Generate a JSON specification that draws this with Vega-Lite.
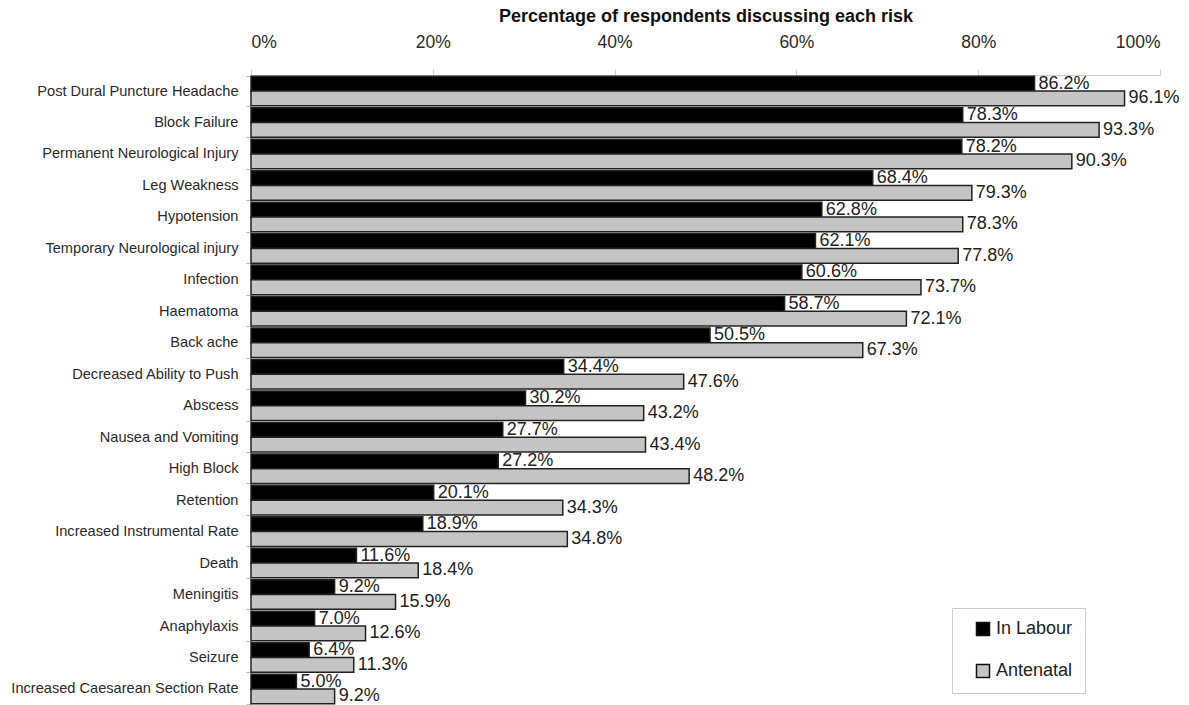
{
  "$schema": "https://vega.github.io/schema/vega-lite/v6.json",
  "autosize": {"type": "none"},
  "width": 909,
  "height": 630,
  "padding": {"left": 251, "top": 75, "right": 29, "bottom": 0},
  "background": "white",
  "config": {"font": "Liberation Sans", "view": {"stroke": null}},
  "data": {"values": [
    {"risk": "Post Dural Puncture Headache", "series": "In Labour", "value": 86.2},
    {"risk": "Post Dural Puncture Headache", "series": "Antenatal", "value": 96.1},
    {"risk": "Block Failure", "series": "In Labour", "value": 78.3},
    {"risk": "Block Failure", "series": "Antenatal", "value": 93.3},
    {"risk": "Permanent Neurological Injury", "series": "In Labour", "value": 78.2},
    {"risk": "Permanent Neurological Injury", "series": "Antenatal", "value": 90.3},
    {"risk": "Leg Weakness", "series": "In Labour", "value": 68.4},
    {"risk": "Leg Weakness", "series": "Antenatal", "value": 79.3},
    {"risk": "Hypotension", "series": "In Labour", "value": 62.8},
    {"risk": "Hypotension", "series": "Antenatal", "value": 78.3},
    {"risk": "Temporary Neurological injury", "series": "In Labour", "value": 62.1},
    {"risk": "Temporary Neurological injury", "series": "Antenatal", "value": 77.8},
    {"risk": "Infection", "series": "In Labour", "value": 60.6},
    {"risk": "Infection", "series": "Antenatal", "value": 73.7},
    {"risk": "Haematoma", "series": "In Labour", "value": 58.7},
    {"risk": "Haematoma", "series": "Antenatal", "value": 72.1},
    {"risk": "Back ache", "series": "In Labour", "value": 50.5},
    {"risk": "Back ache", "series": "Antenatal", "value": 67.3},
    {"risk": "Decreased Ability to Push", "series": "In Labour", "value": 34.4},
    {"risk": "Decreased Ability to Push", "series": "Antenatal", "value": 47.6},
    {"risk": "Abscess", "series": "In Labour", "value": 30.2},
    {"risk": "Abscess", "series": "Antenatal", "value": 43.2},
    {"risk": "Nausea and Vomiting", "series": "In Labour", "value": 27.7},
    {"risk": "Nausea and Vomiting", "series": "Antenatal", "value": 43.4},
    {"risk": "High Block", "series": "In Labour", "value": 27.2},
    {"risk": "High Block", "series": "Antenatal", "value": 48.2},
    {"risk": "Retention", "series": "In Labour", "value": 20.1},
    {"risk": "Retention", "series": "Antenatal", "value": 34.3},
    {"risk": "Increased Instrumental Rate", "series": "In Labour", "value": 18.9},
    {"risk": "Increased Instrumental Rate", "series": "Antenatal", "value": 34.8},
    {"risk": "Death", "series": "In Labour", "value": 11.6},
    {"risk": "Death", "series": "Antenatal", "value": 18.4},
    {"risk": "Meningitis", "series": "In Labour", "value": 9.2},
    {"risk": "Meningitis", "series": "Antenatal", "value": 15.9},
    {"risk": "Anaphylaxis", "series": "In Labour", "value": 7.0},
    {"risk": "Anaphylaxis", "series": "Antenatal", "value": 12.6},
    {"risk": "Seizure", "series": "In Labour", "value": 6.4},
    {"risk": "Seizure", "series": "Antenatal", "value": 11.3},
    {"risk": "Increased Caesarean Section Rate", "series": "In Labour", "value": 5.0},
    {"risk": "Increased Caesarean Section Rate", "series": "Antenatal", "value": 9.2}
  ]},
  "encoding": {
    "y": {
      "field": "risk", "type": "nominal", "sort": null,
      "scale": {"paddingInner": 0.06, "paddingOuter": 0.04},
      "axis": {"title": null, "labelFontSize": 14.6, "labelColor": "#2a2a2a", "labelPadding": 8, "domainColor": "#bbb", "tickColor": "#bbb", "tickBand": "extent", "tickSize": 5, "labelLimit": 300}
    },
    "x": {
      "field": "value", "type": "quantitative",
      "scale": {"domain": [0, 100]},
      "axis": {"orient": "top", "values": [0, 20, 40, 60, 80, 100], "labelExpr": "datum.value + '%'", "title": "Percentage of respondents discussing each risk", "titleFontSize": 18, "titleFontWeight": "bold", "titleColor": "#111", "titlePadding": 8, "labelFontSize": 17.5, "labelColor": "#2a2a2a", "labelPadding": 18, "grid": false, "domainColor": "#ccc", "tickColor": "#ccc", "tickSize": 6}
    },
    "yOffset": {"field": "series", "type": "nominal", "sort": ["In Labour", "Antenatal"], "scale": {"paddingInner": 0, "paddingOuter": 0}}
  },
  "layer": [
    {
      "mark": {"type": "bar", "stroke": "#222", "strokeWidth": 1.5},
      "encoding": {
        "color": {
          "field": "series", "type": "nominal", "sort": ["In Labour", "Antenatal"],
          "scale": {"domain": ["In Labour", "Antenatal"], "range": ["#000000", "#c4c4c4"]},
          "legend": {"title": null, "orient": "none", "legendX": 701, "legendY": 533, "symbolType": "square", "symbolSize": 170, "symbolStrokeColor": "#111", "symbolStrokeWidth": 1.5, "symbolOffset": 10, "labelFontSize": 18, "labelColor": "#222", "rowPadding": 22, "padding": 12, "fillColor": "white", "strokeColor": "#ccc", "labelOffset": 4}
        }
      }
    },
    {
      "mark": {"type": "text", "align": "left", "dx": 4, "dy": 0, "fontSize": 18, "color": "#222", "text": {"expr": "format(datum.value, '.1f') + '%'"}}
    }
  ]
}
